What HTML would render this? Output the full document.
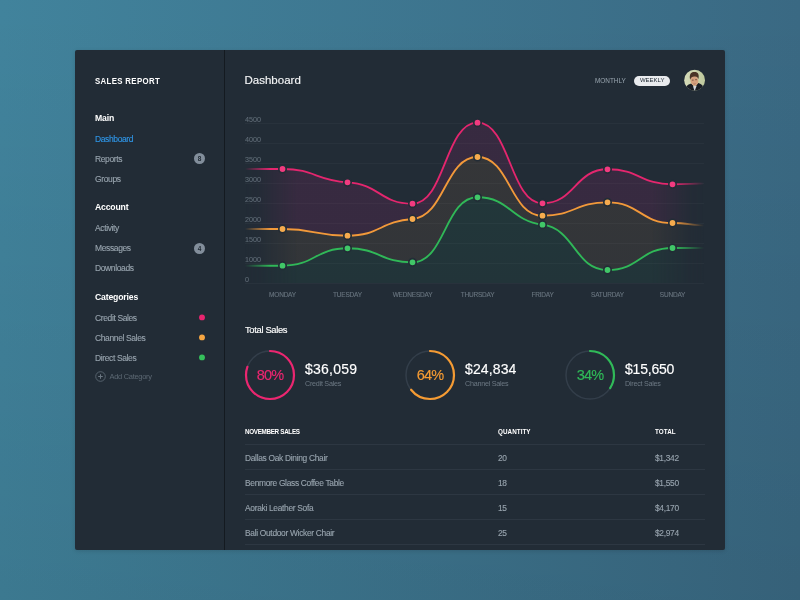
<!DOCTYPE html>
<html lang="en"><head><meta charset="utf-8"><title>Sales Report Dashboard</title>
<style>
*{box-sizing:border-box;margin:0;padding:0}
html,body{width:800px;height:600px;overflow:hidden}
body{font-family:"Liberation Sans",Arial,sans-serif;position:relative;
background:linear-gradient(to bottom,rgba(0,0,0,0),rgba(0,0,0,0.08)),linear-gradient(to right,#41839c,#3a6983);}
.card{position:absolute;left:75px;top:50px;width:650px;height:500px;background:#222c36;border-radius:2px;box-shadow:0 1px 4px rgba(0,0,0,.13)}
.wrap{position:absolute;left:0;top:0;width:800px;height:600px;will-change:transform}
.divider{position:absolute;left:224px;top:50px;width:1px;height:500px;background:#141a20}
.t{position:absolute;white-space:nowrap;line-height:1;transform:translateY(-50%)}
.brand{left:95.3px;top:81.3px;font-size:9px;font-weight:bold;color:#fff;letter-spacing:.4px;transform:translateY(-50%) scaleX(.87);transform-origin:0 50%}
.h{left:94.8px;font-size:9.8px;font-weight:bold;color:#fff;letter-spacing:-.2px;transform:translateY(-50%) scaleX(.885);transform-origin:0 50%}
.n{left:95px;font-size:8.5px;color:#98a4ae;letter-spacing:-.38px;margin-top:.1px;-webkit-text-stroke:.12px currentColor}
.n.act{color:#2f95e6}
.badge{position:absolute;left:194px;width:11px;height:11px;border-radius:50%;background:#828e9b;color:#222c36;font-size:6.5px;font-weight:bold;text-align:center;line-height:11px}
.dot{position:absolute;left:199px;width:6px;height:6px;border-radius:50%}
.add{left:109.5px;top:376.8px;font-size:7.5px;color:#5c6873;letter-spacing:-.3px}
.title{left:244.4px;top:80.5px;font-size:11.5px;color:#f4f5f6;letter-spacing:.02px;-webkit-text-stroke:.15px #f4f5f6}
.monthly{left:595px;top:81px;font-size:6.4px;color:#9aa6b0;letter-spacing:0}
.pill{position:absolute;left:634.2px;top:75.5px;width:36px;height:10.8px;border-radius:6px;background:#e9ebee;color:#222c36;font-size:6px;text-align:center;line-height:9.9px}
.sec{left:245px;top:329.5px;font-size:9.4px;color:#fff;letter-spacing:-.33px;-webkit-text-stroke:.15px #fff}
.pct{position:absolute;width:60px;text-align:center;top:374.9px;font-size:14.5px;letter-spacing:-.85px;line-height:1;transform:translateY(-50%);-webkit-text-stroke:.15px currentColor}
.amt{top:369.3px;font-size:14px;color:#fff;letter-spacing:.22px;-webkit-text-stroke:.15px #fff}
.lbl{top:384.2px;font-size:7.2px;color:#6d7984;letter-spacing:-.26px}
.th{top:431.6px;font-size:6.3px;font-weight:bold;color:#fff;letter-spacing:.05px}
.td{font-size:8.4px;color:#98a4ae;letter-spacing:-.3px;margin-top:0;-webkit-text-stroke:.12px #98a4ae}
.hr{position:absolute;left:245px;width:460px;height:1px;background:#2d3742}
svg.chart{position:absolute;left:0;top:0}
svg text.ax{font-family:"Liberation Sans",Arial,sans-serif;font-size:6.5px;fill:#68747f;letter-spacing:-.2px;stroke:#68747f;stroke-width:.12px}
svg text.ay{font-size:7.2px;letter-spacing:0;fill:#606c77;stroke:#606c77;stroke-width:.08px}
</style></head><body>
<div class="card"></div><div class="divider"></div>
<div class="wrap">
<svg class="chart" width="800" height="600" viewBox="0 0 800 600">
<defs>
<linearGradient id="fade" x1="245" x2="704" y1="0" y2="0" gradientUnits="userSpaceOnUse">
<stop offset="0" stop-color="#fff" stop-opacity="0"/><stop offset="0.03" stop-color="#fff" stop-opacity="0.1"/><stop offset="0.07" stop-color="#fff" stop-opacity="0.55"/><stop offset="0.115" stop-color="#fff" stop-opacity="1"/>
<stop offset="0.885" stop-color="#fff" stop-opacity="1"/><stop offset="0.93" stop-color="#fff" stop-opacity="0.55"/><stop offset="0.97" stop-color="#fff" stop-opacity="0.1"/><stop offset="1" stop-color="#fff" stop-opacity="0"/>
</linearGradient>
<linearGradient id="fade2" x1="245" x2="704" y1="0" y2="0" gradientUnits="userSpaceOnUse">
<stop offset="0" stop-color="#fff" stop-opacity="0"/><stop offset="0.055" stop-color="#fff" stop-opacity="1"/>
<stop offset="0.935" stop-color="#fff" stop-opacity="1"/><stop offset="1" stop-color="#fff" stop-opacity="0"/>
</linearGradient>
<mask id="m2" maskUnits="userSpaceOnUse" x="0" y="0" width="800" height="600"><rect x="245" y="100" width="459" height="190" fill="url(#fade2)"/></mask>
<mask id="m" maskUnits="userSpaceOnUse" x="0" y="0" width="800" height="600"><rect x="245" y="100" width="459" height="190" fill="url(#fade)"/></mask>
<linearGradient id="gp" x1="0" x2="0" y1="120" y2="283" gradientUnits="userSpaceOnUse"><stop offset="0" stop-color="#56294f" stop-opacity="0.42"/><stop offset="1" stop-color="#56294f" stop-opacity="0.42"/></linearGradient>
<linearGradient id="go" x1="0" x2="0" y1="150" y2="283" gradientUnits="userSpaceOnUse"><stop offset="0" stop-color="#353638" stop-opacity="1"/><stop offset="1" stop-color="#323539" stop-opacity="1"/></linearGradient>
<linearGradient id="gg" x1="0" x2="0" y1="195" y2="283" gradientUnits="userSpaceOnUse"><stop offset="0" stop-color="#22373a" stop-opacity="1"/><stop offset="1" stop-color="#223439" stop-opacity="1"/></linearGradient>
</defs>
<g mask="url(#m)">
<path d="M245,169 C260,169 267.5,169 282.5,169 C315.0,169.00 315.0,180.31 347.5,182.3 C380.0,184.30 380.0,203.70 412.5,203.7 C445.0,203.70 445.0,122.70 477.5,122.7 C510.0,122.70 510.0,203.30 542.5,203.3 C575.0,203.30 575.0,169.30 607.5,169.3 C640.0,169.30 640.0,184.30 672.5,184.3 C686.5,184.3 694,183.5 704,183.5 L704,283 L245,283 Z" fill="url(#gp)"/>
<path d="M245,229 C260,229 267.5,229 282.5,229 C315.0,229.00 315.0,235.70 347.5,235.7 C380.0,235.70 380.0,221.50 412.5,219 C445.0,216.50 445.0,157.00 477.5,157 C510.0,157.00 510.0,215.70 542.5,215.7 C575.0,215.70 575.0,202.30 607.5,202.3 C640.0,202.30 640.0,223.00 672.5,223 C686.5,223 694,225.5 704,225.5 L704,283 L245,283 Z" fill="url(#go)"/>
<path d="M245,265.7 C260,265.7 267.5,265.7 282.5,265.7 C315.0,265.70 315.0,248.30 347.5,248.3 C380.0,248.30 380.0,262.30 412.5,262.3 C445.0,262.30 445.0,197.30 477.5,197.3 C510.0,197.30 510.0,220.59 542.5,224.7 C575.0,228.81 575.0,270.00 607.5,270 C640.0,270.00 640.0,248.00 672.5,248 C686.5,248 694,248 704,248 L704,283 L245,283 Z" fill="url(#gg)"/>
</g>
<rect x="245" y="123" width="459" height="1" fill="#ffffff" fill-opacity="0.03"/><rect x="245" y="143" width="459" height="1" fill="#ffffff" fill-opacity="0.03"/><rect x="245" y="163" width="459" height="1" fill="#ffffff" fill-opacity="0.03"/><rect x="245" y="183" width="459" height="1" fill="#ffffff" fill-opacity="0.03"/><rect x="245" y="203" width="459" height="1" fill="#ffffff" fill-opacity="0.03"/><rect x="245" y="223" width="459" height="1" fill="#ffffff" fill-opacity="0.03"/><rect x="245" y="243" width="459" height="1" fill="#ffffff" fill-opacity="0.03"/><rect x="245" y="263" width="459" height="1" fill="#ffffff" fill-opacity="0.03"/><rect x="245" y="283" width="459" height="1" fill="#ffffff" fill-opacity="0.03"/>
<text x="245" y="121.5" class="ax ay">4500</text><text x="245" y="141.5" class="ax ay">4000</text><text x="245" y="161.5" class="ax ay">3500</text><text x="245" y="181.5" class="ax ay">3000</text><text x="245" y="201.5" class="ax ay">2500</text><text x="245" y="221.5" class="ax ay">2000</text><text x="245" y="241.5" class="ax ay">1500</text><text x="245" y="261.5" class="ax ay">1000</text><text x="245" y="281.5" class="ax ay">0</text><text x="282.5" y="296.5" class="ax" text-anchor="middle">MONDAY</text><text x="347.5" y="296.5" class="ax" text-anchor="middle">TUESDAY</text><text x="412.5" y="296.5" class="ax" text-anchor="middle">WEDNESDAY</text><text x="477.5" y="296.5" class="ax" text-anchor="middle">THURSDAY</text><text x="542.5" y="296.5" class="ax" text-anchor="middle">FRIDAY</text><text x="607.5" y="296.5" class="ax" text-anchor="middle">SATURDAY</text><text x="672.5" y="296.5" class="ax" text-anchor="middle">SUNDAY</text>
<g mask="url(#m2)"><path d="M245,169 C260,169 267.5,169 282.5,169 C315.0,169.00 315.0,180.31 347.5,182.3 C380.0,184.30 380.0,203.70 412.5,203.7 C445.0,203.70 445.0,122.70 477.5,122.7 C510.0,122.70 510.0,203.30 542.5,203.3 C575.0,203.30 575.0,169.30 607.5,169.3 C640.0,169.30 640.0,184.30 672.5,184.3 C686.5,184.3 694,183.5 704,183.5" fill="none" stroke="#e4266e" stroke-width="1.85"/>
<path d="M245,229 C260,229 267.5,229 282.5,229 C315.0,229.00 315.0,235.70 347.5,235.7 C380.0,235.70 380.0,221.50 412.5,219 C445.0,216.50 445.0,157.00 477.5,157 C510.0,157.00 510.0,215.70 542.5,215.7 C575.0,215.70 575.0,202.30 607.5,202.3 C640.0,202.30 640.0,223.00 672.5,223 C686.5,223 694,225.5 704,225.5" fill="none" stroke="#f2993a" stroke-width="1.85"/>
<path d="M245,265.7 C260,265.7 267.5,265.7 282.5,265.7 C315.0,265.70 315.0,248.30 347.5,248.3 C380.0,248.30 380.0,262.30 412.5,262.3 C445.0,262.30 445.0,197.30 477.5,197.3 C510.0,197.30 510.0,220.59 542.5,224.7 C575.0,228.81 575.0,270.00 607.5,270 C640.0,270.00 640.0,248.00 672.5,248 C686.5,248 694,248 704,248" fill="none" stroke="#30b858" stroke-width="1.85"/></g>
<circle cx="282.5" cy="169" r="3.7" fill="#f23b80" stroke="#222c36" stroke-width="1.6"/><circle cx="347.5" cy="182.3" r="3.7" fill="#f23b80" stroke="#222c36" stroke-width="1.6"/><circle cx="412.5" cy="203.7" r="3.7" fill="#f23b80" stroke="#222c36" stroke-width="1.6"/><circle cx="477.5" cy="122.7" r="3.7" fill="#f23b80" stroke="#222c36" stroke-width="1.6"/><circle cx="542.5" cy="203.3" r="3.7" fill="#f23b80" stroke="#222c36" stroke-width="1.6"/><circle cx="607.5" cy="169.3" r="3.7" fill="#f23b80" stroke="#222c36" stroke-width="1.6"/><circle cx="672.5" cy="184.3" r="3.7" fill="#f23b80" stroke="#222c36" stroke-width="1.6"/><circle cx="282.5" cy="229" r="3.7" fill="#f6ab4e" stroke="#222c36" stroke-width="1.6"/><circle cx="347.5" cy="235.7" r="3.7" fill="#f6ab4e" stroke="#222c36" stroke-width="1.6"/><circle cx="412.5" cy="219" r="3.7" fill="#f6ab4e" stroke="#222c36" stroke-width="1.6"/><circle cx="477.5" cy="157" r="3.7" fill="#f6ab4e" stroke="#222c36" stroke-width="1.6"/><circle cx="542.5" cy="215.7" r="3.7" fill="#f6ab4e" stroke="#222c36" stroke-width="1.6"/><circle cx="607.5" cy="202.3" r="3.7" fill="#f6ab4e" stroke="#222c36" stroke-width="1.6"/><circle cx="672.5" cy="223" r="3.7" fill="#f6ab4e" stroke="#222c36" stroke-width="1.6"/><circle cx="282.5" cy="265.7" r="3.7" fill="#41c768" stroke="#222c36" stroke-width="1.6"/><circle cx="347.5" cy="248.3" r="3.7" fill="#41c768" stroke="#222c36" stroke-width="1.6"/><circle cx="412.5" cy="262.3" r="3.7" fill="#41c768" stroke="#222c36" stroke-width="1.6"/><circle cx="477.5" cy="197.3" r="3.7" fill="#41c768" stroke="#222c36" stroke-width="1.6"/><circle cx="542.5" cy="224.7" r="3.7" fill="#41c768" stroke="#222c36" stroke-width="1.6"/><circle cx="607.5" cy="270" r="3.7" fill="#41c768" stroke="#222c36" stroke-width="1.6"/><circle cx="672.5" cy="248" r="3.7" fill="#41c768" stroke="#222c36" stroke-width="1.6"/>
<circle cx="202" cy="317.4" r="2.95" fill="#e8256f"/><circle cx="202" cy="337.4" r="2.95" fill="#f6a642"/><circle cx="202" cy="357.4" r="2.95" fill="#35c05b"/>
<circle cx="100.5" cy="376.5" r="4.8" fill="none" stroke="#56626d" stroke-width="1"/><path d="M100.5 374.2v4.6M98.2 376.5h4.6" stroke="#6a7681" stroke-width="1" fill="none"/>
<circle cx="270" cy="375" r="24" fill="none" stroke="#333e4a" stroke-width="1.5"/><circle cx="270" cy="375" r="24" fill="none" stroke="#ec2670" stroke-width="2.2" stroke-linecap="round" stroke-dasharray="120.64 150.80" transform="rotate(-90 270 375)"/><circle cx="430" cy="375" r="24" fill="none" stroke="#333e4a" stroke-width="1.5"/><circle cx="430" cy="375" r="24" fill="none" stroke="#f59b33" stroke-width="2.2" stroke-linecap="round" stroke-dasharray="96.51 150.80" transform="rotate(-90 430 375)"/><circle cx="590" cy="375" r="24" fill="none" stroke="#333e4a" stroke-width="1.5"/><circle cx="590" cy="375" r="24" fill="none" stroke="#30ba58" stroke-width="2.2" stroke-linecap="round" stroke-dasharray="51.27 150.80" transform="rotate(-90 590 375)"/>
</svg>
<div class="t brand">SALES REPORT</div>
<div class="t h" style="top:117.5px">Main</div>
<div class="t n act" style="top:138.5px">Dashboard</div>
<div class="t n" style="top:158.5px">Reports</div><div class="badge" style="top:153px">8</div>
<div class="t n" style="top:178.5px">Groups</div>
<div class="t h" style="top:207px">Account</div>
<div class="t n" style="top:228px">Activity</div>
<div class="t n" style="top:248px">Messages</div><div class="badge" style="top:242.5px">4</div>
<div class="t n" style="top:268px">Downloads</div>
<div class="t h" style="top:296.5px">Categories</div>
<div class="t n" style="top:317.5px">Credit Sales</div>
<div class="t n" style="top:337.5px">Channel Sales</div>
<div class="t n" style="top:357.5px">Direct Sales</div>

<div class="t add">Add Category</div>

<div class="t title">Dashboard</div>
<div class="t monthly">MONTHLY</div>
<div class="pill">WEEKLY</div>
<svg style="position:absolute;left:684px;top:69px" width="22" height="22" viewBox="0.4 -0.2 22 22">
<defs><clipPath id="av"><circle cx="11" cy="11" r="10.4"/></clipPath>
<linearGradient id="avb" x1="0" x2="1" y1="0" y2="0"><stop offset="0" stop-color="#d6dcba"/><stop offset="1" stop-color="#bcc79b"/></linearGradient></defs>
<g clip-path="url(#av)"><rect x="0" y="0" width="23" height="23" fill="url(#avb)"/>
<path d="M0 23 L2.5 17.5 C4 15.6 6 15 7.6 14.4 L10.8 17.8 L14.6 13.8 C16.6 14.6 18.4 15.4 19.6 17.2 L23 23Z" fill="#191d25"/>
<path d="M9.4 17 L11 22 L13.2 16.2Z" fill="#cfd4db"/>
<ellipse cx="10.8" cy="11.6" rx="3.9" ry="5" fill="#d4a07e" transform="rotate(-10 10.8 11.6)"/>
<path d="M6.6 10.6 C5.2 5 7.6 2.7 10.6 2.8 C14.2 2.5 16 5.2 14.8 9.8 C14 7.6 12.6 7 10.6 7.3 C8.6 7.4 7.4 8.2 6.6 10.6Z" fill="#493326"/>
<path d="M8.3 10.9h1.7M11.6 10.5h1.7" stroke="#5a3f33" stroke-width=".8"/>
<path d="M9.9 14.6 q1 .5 2.1 -.2" stroke="#a4645a" stroke-width=".7" fill="none"/>
</g></svg>

<div class="t sec">Total Sales</div>
<div class="pct" style="left:240px;color:#ec2670">80%</div>
<div class="pct" style="left:400px;color:#f59b33">64%</div>
<div class="pct" style="left:560px;color:#30ba58">34%</div>
<div class="t amt" style="left:305px">$36,059</div><div class="t lbl" style="left:305px">Credit Sales</div>
<div class="t amt" style="left:465px;letter-spacing:.12px">$24,834</div><div class="t lbl" style="left:465px">Channel Sales</div>
<div class="t amt" style="left:625px;letter-spacing:-.2px">$15,650</div><div class="t lbl" style="left:625px">Direct Sales</div>

<div class="t th" style="left:245px;letter-spacing:-.32px">NOVEMBER SALES</div><div class="t th" style="left:498px">QUANTITY</div><div class="t th" style="left:655px">TOTAL</div>
<div class="hr" style="top:444px"></div><div class="hr" style="top:469px"></div><div class="hr" style="top:494px"></div><div class="hr" style="top:519px"></div><div class="hr" style="top:544px"></div>
<div class="t td" style="left:245px;top:457.5px">Dallas Oak Dining Chair</div><div class="t td" style="left:498px;top:457.5px">20</div><div class="t td" style="left:655px;top:457.5px">$1,342</div>
<div class="t td" style="left:245px;top:482.5px">Benmore Glass Coffee Table</div><div class="t td" style="left:498px;top:482.5px">18</div><div class="t td" style="left:655px;top:482.5px">$1,550</div>
<div class="t td" style="left:245px;top:507.5px">Aoraki Leather Sofa</div><div class="t td" style="left:498px;top:507.5px">15</div><div class="t td" style="left:655px;top:507.5px">$4,170</div>
<div class="t td" style="left:245px;top:532.5px">Bali Outdoor Wicker Chair</div><div class="t td" style="left:498px;top:532.5px">25</div><div class="t td" style="left:655px;top:532.5px">$2,974</div>
</div>
</body></html>
